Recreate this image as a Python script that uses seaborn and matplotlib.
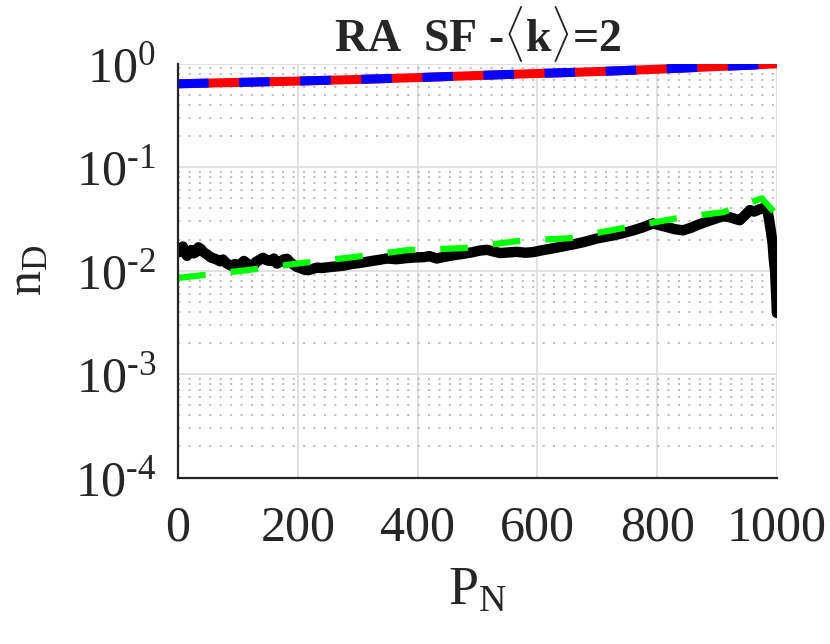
import numpy as np
import pandas as pd
import seaborn as sns
import matplotlib
matplotlib.use('Agg')
import matplotlib.pyplot as plt
from matplotlib.ticker import FixedLocator, LogLocator, NullFormatter

# datos
x_ra = [0, 100, 200, 300, 400, 500, 600, 700, 800, 900, 950, 1000]
y_red = [0.64, 0.66, 0.68, 0.705, 0.735, 0.77, 0.805, 0.84, 0.885, 0.94, 0.965, 1.0]
y_blue = [0.64, 0.66, 0.68, 0.705, 0.735, 0.77, 0.805, 0.84, 0.885, 0.94, 0.965, 1.0]

x_green = [0, 115, 204, 292, 384, 476, 566, 654, 743, 833, 910, 975, 1000]
y_green = [0.0085, 0.0101, 0.0118, 0.0135, 0.0158, 0.0165, 0.0193, 0.0206,
           0.0258, 0.0321, 0.0367, 0.050, 0.0344]

x_black = [0, 4, 8, 12, 15, 19, 22, 26, 30, 34, 37, 42, 46, 50, 55, 60, 66,
           70, 75, 80, 85, 90, 95, 98, 103, 110, 115, 120, 125, 130, 136, 142,
           148, 155, 160, 165, 170, 176, 182, 187, 192, 198, 204, 209, 217, 225,
           232, 240, 252, 265, 277, 290, 305, 320, 335, 349, 365, 380, 395, 410,
           420, 432, 445, 460, 475, 490, 503, 516, 527, 538, 552, 565, 580, 593,
           607, 620, 635, 650, 663, 676, 688, 700, 715, 730, 745, 760, 776, 793,
           804, 815, 829, 843, 856, 870, 885, 900, 910, 920, 929, 938, 946, 955,
           962, 970, 975, 980, 984, 987, 990, 993, 995, 997, 999, 1000]
y_black = [0.0150, 0.0162, 0.0171, 0.0148, 0.0139, 0.0152, 0.0158, 0.0147,
           0.0151, 0.0168, 0.0164, 0.0152, 0.0146, 0.0141, 0.0134, 0.0131,
           0.0127, 0.0123, 0.0128, 0.0119, 0.0114, 0.0111, 0.0116, 0.0106,
           0.0113, 0.0124, 0.0118, 0.0112, 0.0109, 0.0121, 0.0127, 0.0133,
           0.0126, 0.0124, 0.0131, 0.0117, 0.0121, 0.0128, 0.0130, 0.0121,
           0.0115, 0.0109, 0.0106, 0.0103, 0.0101, 0.0104, 0.0107, 0.0106,
           0.0108, 0.0110, 0.0112, 0.0116, 0.0119, 0.0123, 0.0127, 0.0131,
           0.0129, 0.0132, 0.0134, 0.0135, 0.0138, 0.0131, 0.0136, 0.0141,
           0.0145, 0.0150, 0.0156, 0.0159, 0.0153, 0.0148, 0.0150, 0.0152,
           0.0149, 0.0151, 0.0157, 0.0162, 0.0168, 0.0175, 0.0181, 0.0188,
           0.0196, 0.0205, 0.0213, 0.0221, 0.0232, 0.0245, 0.0262, 0.0286,
           0.0275, 0.0265, 0.0252, 0.0245, 0.0259, 0.0280, 0.0301, 0.0322,
           0.0335, 0.0330, 0.0318, 0.0307, 0.0340, 0.0385, 0.0372, 0.0390,
           0.0398, 0.0410, 0.0395, 0.0310, 0.0240, 0.0180, 0.0125, 0.0100,
           0.0055, 0.0039]

x_ticks = [0, 200, 400, 600, 800, 1000]
y_ticks = [1e-4, 1e-3, 1e-2, 1e-1, 1e0]
y_ticklabels = [r'$\mathregular{10^{\text{-}4}}$', r'$\mathregular{10^{\text{-}3}}$',
                r'$\mathregular{10^{\text{-}2}}$', r'$\mathregular{10^{\text{-}1}}$',
                r'$\mathregular{10^{0}}$']

sns.set_theme(style='white')
plt.rcParams['font.family'] = ['Liberation Serif', 'DejaVu Serif']
plt.rcParams['mathtext.fontset'] = 'custom'
plt.rcParams['mathtext.rm'] = 'Liberation Serif'
plt.rcParams['mathtext.it'] = 'Liberation Serif:italic'
plt.rcParams['mathtext.bf'] = 'Liberation Serif:bold'
plt.rcParams['lines.scale_dashes'] = False

fig = plt.figure(figsize=(8.3, 6.44), dpi=100)
ax = fig.add_axes([0.2145, 0.2585, 0.7215, 0.6425])

sns.lineplot(x=x_ra, y=y_red, color='#ff0000', linewidth=6.5, ax=ax)
sns.lineplot(x=x_ra, y=y_blue, color='#0000ff', linewidth=6.5,
             linestyle=(0, (22, 22)), ax=ax)
sns.lineplot(x=x_black, y=y_black, color='black', linewidth=7.5,
             ax=ax, sort=False)
sns.lineplot(x=x_green, y=y_green, color='#00ff00', linewidth=4.5,
             linestyle=(0, (20, 18)), ax=ax)

ax.set_yscale('log')
ax.set_xlim(0, 1000)
ax.set_ylim(1e-4, 1)
ax.xaxis.set_major_locator(FixedLocator(x_ticks))
ax.set_xticklabels([str(t) for t in x_ticks])
ax.yaxis.set_major_locator(FixedLocator(y_ticks))
ax.yaxis.set_minor_locator(LogLocator(base=10, subs=np.arange(2, 10)))
ax.yaxis.set_minor_formatter(NullFormatter())
ax.set_yticklabels(y_ticklabels)

ax.grid(True, which='major', color='#dcdcdc', linewidth=1.2, linestyle='-')
ax.grid(True, which='minor', axis='y', color='#b8b8b8', linewidth=1.3,
        linestyle=(0, (1.5, 6)))
ax.set_axisbelow(True)

for s in ['top', 'right']:
    ax.spines[s].set_visible(False)
for s in ['left', 'bottom']:
    ax.spines[s].set_color('#262626')
    ax.spines[s].set_linewidth(1.6)

ax.tick_params(axis='both', which='major', direction='in', length=7, width=1.4,
               color='#262626', labelsize=36, labelcolor='#262626')
ax.tick_params(axis='y', which='minor', direction='in', length=4, width=1.2,
               color='#262626')
ax.tick_params(axis='x', which='major', pad=20)
ax.tick_params(axis='y', which='major', pad=16)

ax.set_xlabel(r'$\mathregular{P_N}$', fontsize=39, color='#262626')
ax.xaxis.set_label_coords(0.5, -0.215)
ax.set_ylabel(r'$\mathregular{n_D}$', fontsize=36, color='#262626')
ax.yaxis.set_label_coords(-0.21, 0.5)
ax.set_title(r'RA  SF -$\langle\mathbf{k}\rangle$=2', fontsize=33,
             fontweight='bold', pad=9)

fig.savefig('out.png', dpi=100)
